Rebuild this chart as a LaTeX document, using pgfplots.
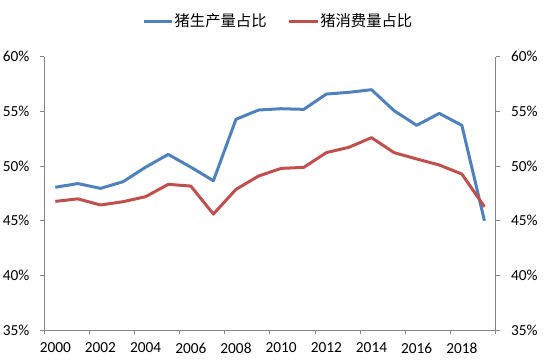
\documentclass[border=0pt]{standalone}
\usepackage{fontspec}
\setmainfont{Carlito}
\newfontfamily\cjk{Noto Sans CJK SC}
\usepackage{pgfplots}
\pgfplotsset{compat=1.18}
\definecolor{eblue}{HTML}{4F81BD}
\definecolor{ered}{HTML}{C0504D}
\definecolor{axgray}{HTML}{868686}

\pgfplotstableread{
year prod cons
2000 48.06 46.77
2001 48.40 47.00
2002 47.96 46.44
2003 48.57 46.74
2004 49.90 47.20
2005 51.07 48.33
2006 49.90 48.17
2007 48.66 45.61
2008 54.28 47.87
2009 55.13 49.09
2010 55.25 49.79
2011 55.19 49.88
2012 56.59 51.23
2013 56.75 51.72
2014 56.99 52.60
2015 55.07 51.23
2016 53.73 50.65
2017 54.82 50.10
2018 53.73 49.27
2019 45.00 46.28
}\datatable

\pgfplotsset{
  mybase/.style={
    at={(33pt,23.25pt)}, anchor=south west,
    scale only axis, width=338.8pt, height=204.9pt,
    xmin=1999.5, xmax=2019.5, ymin=35, ymax=60,
    ytick={35,40,...,60},
    yticklabel={\pgfmathprintnumber{\tick}\%},
    tick align=outside, major tick length=3pt,
    axis line style={axgray, line width=0.75pt},
    tick style={axgray, line width=0.75pt},
    /pgf/number format/assume math mode=true,
    /pgf/number format/1000 sep={},
    tick label style={font=\fontsize{11.5}{14}\selectfont, text=black},
  }
}

\begin{document}
\begin{tikzpicture}
\useasboundingbox (0,0) rectangle (415.5pt,270.75pt);
\begin{axis}[mybase,
  axis x line*=bottom, axis y line*=left,
  xtick={1999.5,2001.5,...,2019.5}, xticklabels={},
  extra x ticks={2000,2002,...,2018},
  extra x tick style={major tick length=0pt, xticklabel style={yshift=-6pt}},
  yticklabel style={xshift=-4.5pt},
  legend columns=2,
  legend style={at={(0.518,1.131)}, anchor=center, draw=none, fill=none,
    inner sep=0pt, font=\cjk\fontsize{11.5}{13}\selectfont,
    nodes={inner sep=1pt},
    /tikz/every even column/.append style={column sep=15pt}},
  legend image code/.code={\draw[#1] (0pt,0pt) -- (21pt,0pt);},
]
\addplot[eblue, line width=2.25pt, line join=round] table[x=year, y=prod] {\datatable};
\addlegendentry{猪生产量占比}
\addplot[ered, line width=2.25pt, line join=round] table[x=year, y=cons] {\datatable};
\addlegendentry{猪消费量占比}
\end{axis}
\begin{axis}[mybase,
  axis x line=none, axis y line*=right,
  yticklabel style={xshift=5pt},
]
\end{axis}
\end{tikzpicture}
\end{document}
